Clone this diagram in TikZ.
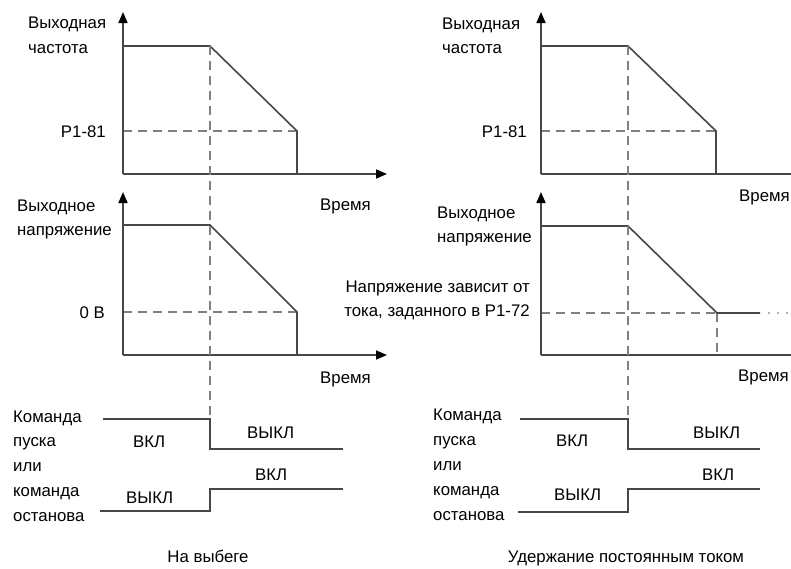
\documentclass[tikz,border=0pt]{standalone}
\usepackage{fontspec}
\setmainfont{Liberation Sans}
\usetikzlibrary{arrows.meta}
\begin{document}
\begin{tikzpicture}[x=1pt,y=-1pt,
  sig/.style={draw=black!72, line width=1.6pt},
  axis/.style={draw=black!72, line width=1.6pt, -{Triangle[length=11pt,width=9pt,color=black]}},
  axisn/.style={draw=black!72, line width=1.6pt},
  dsh/.style={draw=black!50, line width=1.6pt, dash pattern=on 9pt off 6pt},
  dots/.style={draw=black!30, line width=1.6pt, dash pattern=on 2pt off 7pt},
  lbl/.style={font=\fontsize{16.8}{20}\selectfont, inner sep=0pt, text=black},
]
\useasboundingbox (0,0) rectangle (791,568);

% ---------------- LEFT: frequency ----------------
\coordinate (lfo) at (123,174);
\coordinate (lftop) at (123,12);
\coordinate (lfx) at (387,174);
\coordinate (lfa) at (123,46);
\coordinate (lfb) at (210,46);
\coordinate (lfc) at (297,131);
\coordinate (lfd) at (297,174);
\coordinate (lfe) at (123,131);
\draw[dsh] (lfe) -- (lfc);
\draw[axis] (lfo) -- (lftop);
\draw[axis] (lfo) -- (lfx);
\draw[sig] (lfa) -- (lfb) -- (lfc) -- (lfd);

% ---------------- LEFT: voltage ----------------
\coordinate (lvo) at (123,355);
\coordinate (lvtop) at (123,192);
\coordinate (lvx) at (387,355);
\coordinate (lva) at (123,225);
\coordinate (lvb) at (210,225);
\coordinate (lvc) at (297,312);
\coordinate (lvd) at (297,355);
\coordinate (lve) at (123,312);
\draw[dsh] (lve) -- (lvc);
\draw[axis] (lvo) -- (lvtop);
\draw[axis] (lvo) -- (lvx);
\draw[sig] (lva) -- (lvb) -- (lvc) -- (lvd);

% ---------------- LEFT: commands ----------------
\coordinate (lu1) at (103,419);
\coordinate (lu2) at (210,419);
\coordinate (lu3) at (210,449);
\coordinate (lu4) at (343,449);
\coordinate (ll1) at (100,511);
\coordinate (ll2) at (210,511);
\coordinate (ll3) at (210,489);
\coordinate (ll4) at (343,489);
\draw[dsh] (lfb) -- (lu2);
\draw[sig] (lu1) -- (lu2) -- (lu3) -- (lu4);
\draw[sig] (ll1) -- (ll2) -- (ll3) -- (ll4);

% ---------------- RIGHT: frequency ----------------
\coordinate (rfo) at (541,174);
\coordinate (rftop) at (541,12);
\coordinate (rfx) at (791,174);
\coordinate (rfa) at (541,46);
\coordinate (rfb) at (628,46);
\coordinate (rfc) at (716,131);
\coordinate (rfd) at (716,174);
\coordinate (rfe) at (541,131);
\draw[dsh] (rfe) -- (rfc);
\draw[axis] (rfo) -- (rftop);
\draw[axisn] (rfo) -- (rfx);
\draw[sig] (rfa) -- (rfb) -- (rfc) -- (rfd);

% ---------------- RIGHT: voltage ----------------
\coordinate (rvo) at (541,355);
\coordinate (rvtop) at (541,192);
\coordinate (rvx) at (791,355);
\coordinate (rva) at (541,226);
\coordinate (rvb) at (628,226);
\coordinate (rvc) at (717,313);
\coordinate (rvd) at (717,355);
\coordinate (rve) at (541,313);
\coordinate (rvf) at (760,313);
\coordinate (rvg) at (791,313);
\draw[dsh] (rve) -- (rvc);
\draw[dsh] (rvc) -- (rvd);
\draw[axis] (rvo) -- (rvtop);
\draw[axisn] (rvo) -- (rvx);
\draw[sig] (rva) -- (rvb) -- (rvc) -- (rvf);
\draw[dots] ([xshift=8pt]rvf) -- (rvg);

% ---------------- RIGHT: commands ----------------
\coordinate (ru1) at (520,419);
\coordinate (ru2) at (628,419);
\coordinate (ru3) at (628,449);
\coordinate (ru4) at (760,449);
\coordinate (rl1) at (518,512);
\coordinate (rl2) at (628,512);
\coordinate (rl3) at (628,489);
\coordinate (rl4) at (760,489);
\draw[dsh] (rfb) -- (ru2);
\draw[sig] (ru1) -- (ru2) -- (ru3) -- (ru4);
\draw[sig] (rl1) -- (rl2) -- (rl3) -- (rl4);

% ---------------- LEFT labels ----------------
\node[lbl, anchor=base west] (lt1) at (28,28) {Выходная};
\node[lbl, anchor=base west] (lt2) at (28,53) {частота};
\node[lbl, anchor=base east] (lp) at (106,137) {P1-81};
\node[lbl, anchor=base west] (lt3) at (320,210) {Время};
\node[lbl, anchor=base west] (lv1) at (17,211) {Выходное};
\node[lbl, anchor=base west] (lv2) at (17,235) {напряжение};
\node[lbl, anchor=base east] (l0) at (105,318) {0 В};
\node[lbl, anchor=base west] (lt4) at (320,383) {Время};
\node[lbl, anchor=base west] (lc1) at (13,422) {Команда};
\node[lbl, anchor=base west] (lc2) at (13,446) {пуска};
\node[lbl, anchor=base west] (lc3) at (13,471) {или};
\node[lbl, anchor=base west] (lc4) at (13,496) {команда};
\node[lbl, anchor=base west] (lc5) at (13,521) {останова};
\node[lbl, anchor=base west] (lon1) at (133,447) {ВКЛ};
\node[lbl, anchor=base west] (loff1) at (247,438) {ВЫКЛ};
\node[lbl, anchor=base west] (lon2) at (255,480) {ВКЛ};
\node[lbl, anchor=base west] (loff2) at (126,503) {ВЫКЛ};
\node[lbl, anchor=base] (lcap) at (208,562) {На выбеге};

% ---------------- RIGHT labels ----------------
\node[lbl, anchor=base west] (rt1) at (442,29) {Выходная};
\node[lbl, anchor=base west] (rt2) at (442,53) {частота};
\node[lbl, anchor=base east] (rp) at (527,137) {P1-81};
\node[lbl, anchor=base west] (rt3) at (739,201) {Время};
\node[lbl, anchor=base west] (rv1) at (437,218) {Выходное};
\node[lbl, anchor=base west] (rv2) at (437,242) {напряжение};
\node[lbl, anchor=base east] (rn1) at (530,292) {Напряжение зависит от};
\node[lbl, anchor=base east] (rn2) at (530,316) {тока, заданного в P1-72};
\node[lbl, anchor=base west] (rt4) at (738,381) {Время};
\node[lbl, anchor=base west] (rc1) at (433,420) {Команда};
\node[lbl, anchor=base west] (rc2) at (433,445) {пуска};
\node[lbl, anchor=base west] (rc3) at (433,470) {или};
\node[lbl, anchor=base west] (rc4) at (433,495) {команда};
\node[lbl, anchor=base west] (rc5) at (433,520) {останова};
\node[lbl, anchor=base west] (ron1) at (556,446) {ВКЛ};
\node[lbl, anchor=base west] (roff1) at (693,438) {ВЫКЛ};
\node[lbl, anchor=base west] (ron2) at (702,480) {ВКЛ};
\node[lbl, anchor=base west] (roff2) at (554,500) {ВЫКЛ};
\node[lbl, anchor=base] (rcap) at (626,562) {Удержание постоянным током};
\end{tikzpicture}
\end{document}
